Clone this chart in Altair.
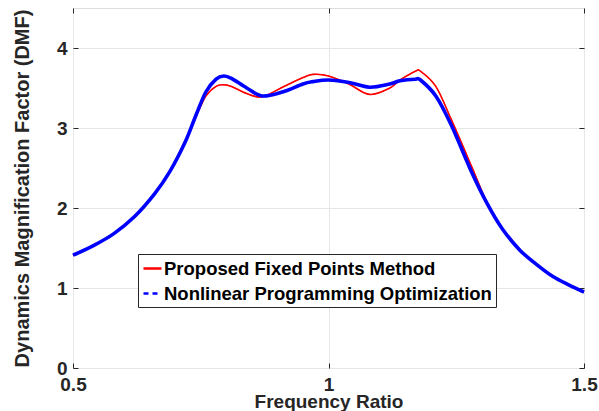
import altair as alt
import pandas as pd

freq = [0.50, 0.54, 0.58, 0.62, 0.66, 0.69, 0.72, 0.74, 0.76, 0.78, 0.795, 0.81, 0.84, 0.87,
        0.91, 0.95, 0.97, 1.00, 1.04, 1.08, 1.12, 1.14, 1.17, 1.18, 1.21, 1.24, 1.28,
        1.31, 1.34, 1.375, 1.41, 1.44, 1.47, 1.50]
fixed_points = [1.41, 1.53, 1.68, 1.89, 2.18, 2.46, 2.83, 3.13, 3.40, 3.52, 3.54, 3.52, 3.43, 3.39,
                3.51, 3.63, 3.67, 3.65, 3.55, 3.42, 3.50, 3.60, 3.71, 3.71, 3.52, 3.11, 2.52,
                2.07, 1.74, 1.47, 1.28, 1.14, 1.04, 0.95]
nonlinear = [1.41, 1.53, 1.68, 1.89, 2.18, 2.46, 2.83, 3.15, 3.45, 3.61, 3.65, 3.62, 3.50, 3.40,
             3.45, 3.55, 3.58, 3.60, 3.57, 3.51, 3.55, 3.59, 3.61, 3.60, 3.40, 3.04, 2.45,
             2.06, 1.74, 1.47, 1.28, 1.14, 1.04, 0.95]

series_names = ["Proposed Fixed Points Method", "Nonlinear Programming Optimization"]
colors = ["#ff0000", "#0000ff"]
x_ticks = [0.5, 1, 1.5]
y_ticks = [0, 1, 2, 3, 4]

rows = []
for i, x in enumerate(freq):
    rows.append({"x": x, "y": fixed_points[i], "series": series_names[0], "o": i})
    rows.append({"x": x, "y": nonlinear[i], "series": series_names[1], "o": i})
df = pd.DataFrame(rows)

FONT = "Liberation Sans"
AX = "#262626"
INTERP = "cardinal"

xscale = alt.Scale(domain=[0.5, 1.5], nice=False, zero=False)
yscale = alt.Scale(domain=[0, 4.5], nice=False, zero=False)

xaxis = alt.Axis(values=x_ticks, format="~g", title="Frequency Ratio",
                 ticks=True, tickSize=5, tickColor=AX, offset=-5,
                 labelPadding=7, labelFont=FONT, labelFontSize=19,
                 labelFontWeight="bold", labelColor=AX, titleFont=FONT, titleFontSize=19,
                 titleFontWeight="bold", titleColor=AX, titleY=29, titleBaseline="top",
                 domain=False, gridColor="#e6e6e6", gridWidth=1, labelFlush=False)
yaxis = alt.Axis(values=y_ticks, format="~g", title="Dynamics Magnification Factor (DMF)",
                 ticks=True, tickSize=5, tickColor=AX, offset=-5,
                 labelPadding=6, labelFont=FONT, labelFontSize=19,
                 labelFontWeight="bold", labelColor=AX, titleFont=FONT, titleFontSize=20,
                 titleFontWeight="bold", titleColor=AX, titleX=-56, titleY=180,
                 titleBaseline="middle", titleAlign="center",
                 domain=False, gridColor="#e6e6e6", gridWidth=1)

legend_opts = dict(title=None, orient="none", legendX=65, legendY=246,
                   symbolType="stroke", symbolSize=324, symbolStrokeWidth=2.5,
                   labelFont=FONT, labelFontSize=18.5, labelFontWeight="bold",
                   labelColor="#000000", labelOffset=1, strokeColor="#262626",
                   fillColor="#ffffff", padding=4, rowPadding=5, labelLimit=420)

base = alt.Chart(df)

legend_layer = base.mark_line(interpolate=INTERP, strokeWidth=1).encode(
    x=alt.X("x:Q", scale=xscale, axis=xaxis),
    y=alt.Y("y:Q", scale=yscale, axis=yaxis),
    order="o:Q",
    color=alt.Color("series:N", scale=alt.Scale(domain=series_names, range=colors),
                    legend=alt.Legend(**legend_opts)),
    strokeDash=alt.StrokeDash("series:N",
                              scale=alt.Scale(domain=series_names, range=[[1, 0], [5, 4]]),
                              legend=alt.Legend(**legend_opts)),
)

red_line = base.transform_filter(alt.datum.series == series_names[0]).mark_line(
    interpolate=INTERP, color=colors[0], strokeWidth=1.6).encode(
    x=alt.X("x:Q", scale=xscale), y=alt.Y("y:Q", scale=yscale), order="o:Q")
blue_line = base.transform_filter(alt.datum.series == series_names[1]).mark_line(
    interpolate=INTERP, color=colors[1], strokeWidth=3.6).encode(
    x=alt.X("x:Q", scale=xscale), y=alt.Y("y:Q", scale=yscale), order="o:Q")

main = alt.layer(legend_layer, red_line, blue_line)

tick_layer = base.mark_point(opacity=0).encode(
    x=alt.X("x:Q", scale=xscale,
            axis=alt.Axis(orient="top", values=x_ticks, labels=False, title=None, grid=False,
                          domain=False, ticks=True, tickSize=5, tickColor=AX, offset=-5)),
    y=alt.Y("y:Q", scale=yscale,
            axis=alt.Axis(orient="right", values=y_ticks, labels=False, title=None, grid=False,
                          domain=False, ticks=True, tickSize=5, tickColor=AX, offset=-5)),
)

chart = alt.layer(main, tick_layer).resolve_scale(
    x="independent", y="independent"
).properties(
    width=511, height=360,
    autosize=alt.AutoSizeParams(type="none"),
    padding={"left": 73, "top": 8, "right": 15, "bottom": 43},
).configure_view(stroke=AX, strokeWidth=1).configure(background="#ffffff")

chart.save("out.html", embed_options={"renderer": "svg", "actions": False})
